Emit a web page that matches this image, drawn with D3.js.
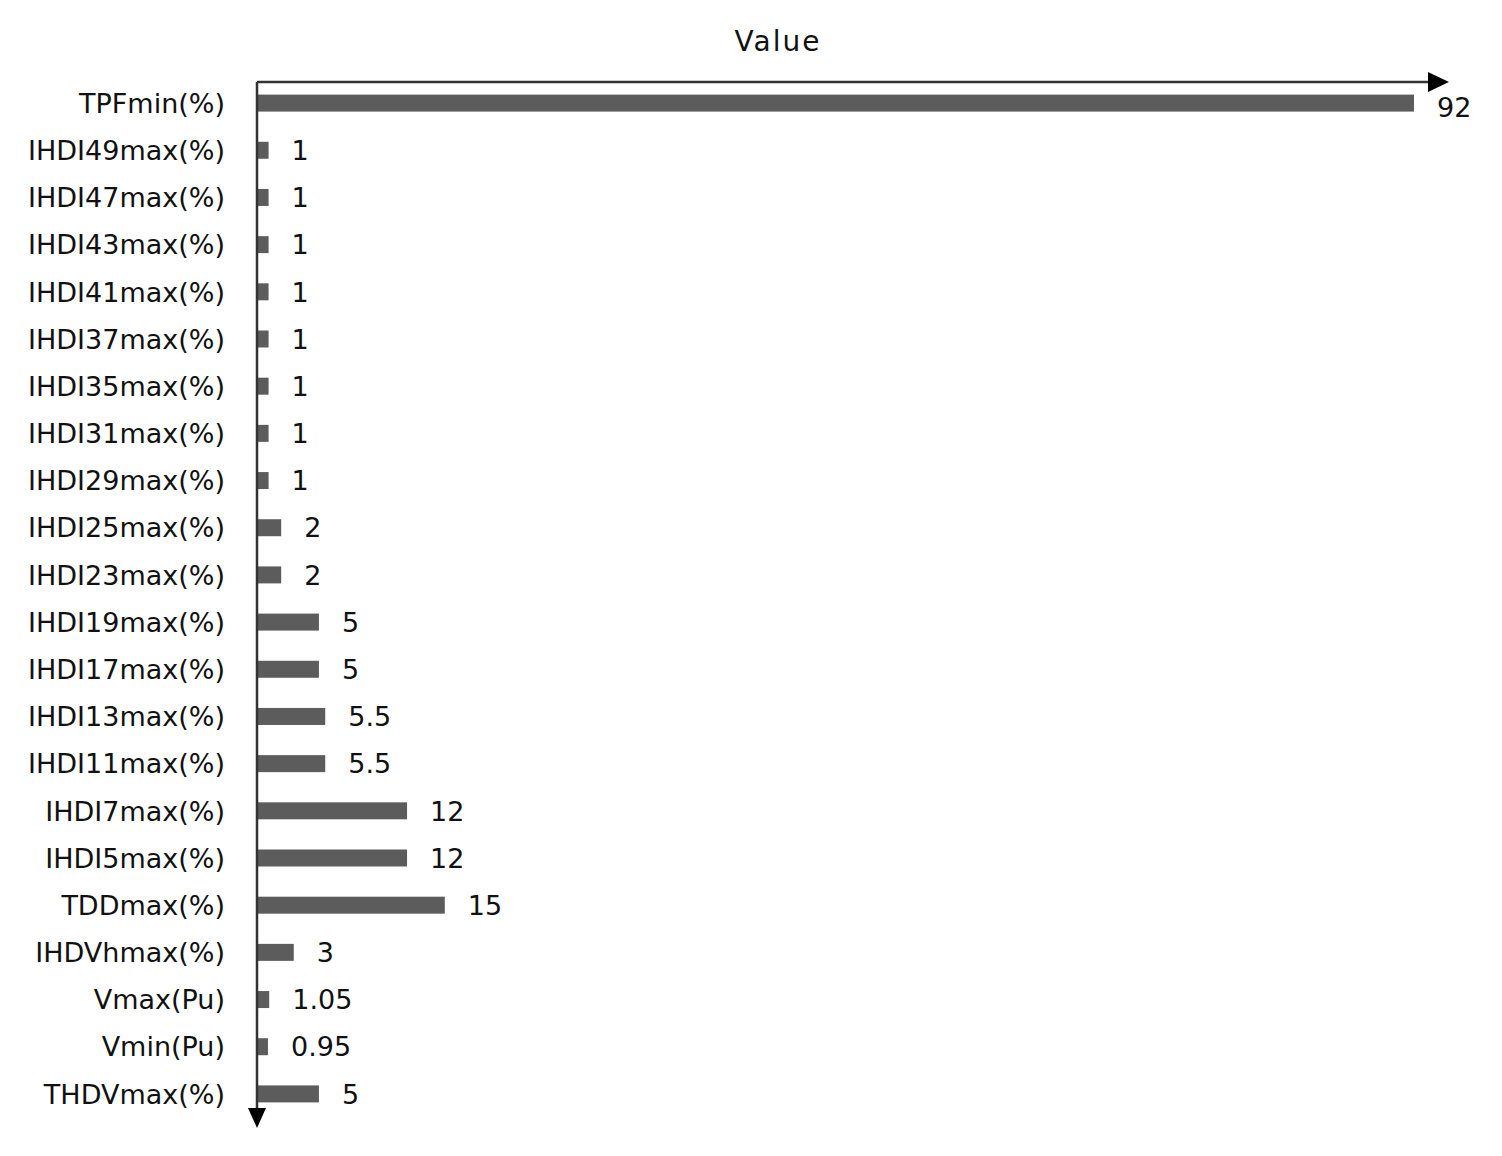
<!DOCTYPE html>
<html>
<head>
<meta charset="utf-8">
<script src="https://cdn.jsdelivr.net/npm/d3@7"></script>
<style>
  body { margin: 0; background: #fff; }
  text { font-family: "DejaVu Sans", Verdana, sans-serif; fill: #111; }
</style>
</head>
<body>
<div id="chart"></div>
<script>
const categories = ["TPFmin(%)", "IHDI49max(%)", "IHDI47max(%)", "IHDI43max(%)", "IHDI41max(%)",
    "IHDI37max(%)", "IHDI35max(%)", "IHDI31max(%)", "IHDI29max(%)", "IHDI25max(%)", "IHDI23max(%)",
    "IHDI19max(%)", "IHDI17max(%)", "IHDI13max(%)", "IHDI11max(%)", "IHDI7max(%)", "IHDI5max(%)",
    "TDDmax(%)", "IHDVhmax(%)", "Vmax(Pu)", "Vmin(Pu)", "THDVmax(%)"];
const values = [92, 1, 1, 1, 1, 1, 1, 1, 1, 2, 2, 5, 5, 5.5, 5.5, 12, 12, 15, 3, 1.05, 0.95, 5];
const valueLabels = ["92", "1", "1", "1", "1", "1", "1", "1", "1", "2", "2", "5", "5", "5.5", "5.5",
    "12", "12", "15", "3", "1.05", "0.95", "5"];
const axisTitle = "Value";

const width = 1502, height = 1156;
const svg = d3.select("#chart").append("svg")
    .attr("width", width)
    .attr("height", height);

const x = d3.scaleLinear().domain([0, 92]).range([258, 1416]);
const y = d3.scaleBand().domain(categories).range([79.5, 1117.5])
    .paddingInner(0.64).paddingOuter(0.32);

const x0 = x(0), axisTop = 82;

// bars
svg.append("g").selectAll("rect")
    .data(categories)
    .enter()
    .append("rect")
    .attr("x", x0)
    .attr("y", d => y(d))
    .attr("width", (d, i) => x(values[i]) - x0 - 2)
    .attr("height", y.bandwidth())
    .attr("fill", "#5c5c5c");

// value labels
svg.append("g").selectAll("text")
    .data(categories)
    .enter()
    .append("text")
    .attr("x", (d, i) => x(values[i]) + 21)
    .attr("y", d => y(d) + y.bandwidth() / 2 + (d === categories[0] ? 4 : 0))
    .attr("dy", "0.36em")
    .attr("font-size", 27)
    .text((d, i) => valueLabels[i]);

// category labels
svg.append("g").selectAll("text")
    .data(categories)
    .enter()
    .append("text")
    .attr("x", 225)
    .attr("y", d => y(d) + y.bandwidth() / 2)
    .attr("dy", "0.36em")
    .attr("text-anchor", "end")
    .attr("font-size", 27)
    .text(d => d);

// axes with arrows
const axisRight = 1434, axisBottom = 1112;
svg.append("line")
    .attr("x1", x0 - 1).attr("x2", axisRight)
    .attr("y1", axisTop).attr("y2", axisTop)
    .attr("stroke", "#333").attr("stroke-width", 2.5);
svg.append("line")
    .attr("x1", x0 - 1).attr("x2", x0 - 1)
    .attr("y1", axisTop).attr("y2", axisBottom)
    .attr("stroke", "#333").attr("stroke-width", 2.5);
svg.append("path")
    .attr("d", `M${axisRight - 6},${axisTop - 10} L${axisRight + 15},${axisTop} L${axisRight - 6},${axisTop + 10} Z`)
    .attr("fill", "#000");
svg.append("path")
    .attr("d", `M${x0 - 10},${axisBottom - 4} L${x0 - 1},${axisBottom + 16} L${x0 + 8},${axisBottom - 4} Z`)
    .attr("fill", "#000");

svg.append("text")
    .attr("x", 778)
    .attr("y", 51)
    .attr("text-anchor", "middle")
    .attr("font-size", 28)
    .attr("letter-spacing", 2)
    .text(axisTitle);
</script>
</body>
</html>
